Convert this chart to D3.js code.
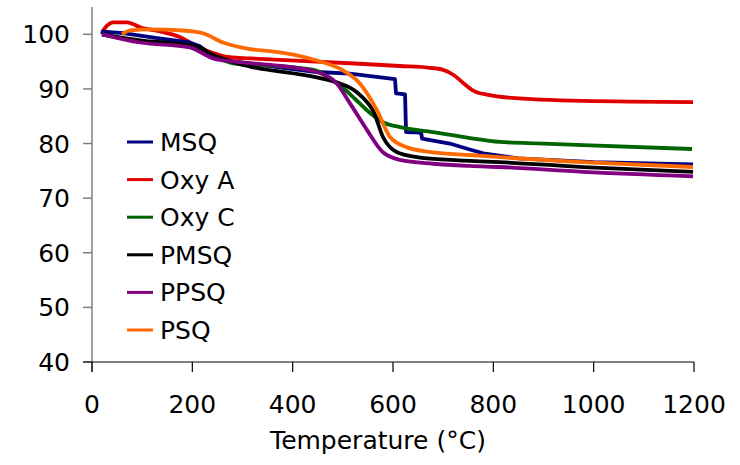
<!DOCTYPE html>
<html>
<head>
<meta charset="utf-8">
<script src="https://cdn.jsdelivr.net/npm/d3@7"></script>
<style>
  body { margin: 0; background: #fff; }
  svg text { font-family: "DejaVu Sans", Verdana, sans-serif; fill: #000; }
</style>
</head>
<body>
<svg id="chart"></svg>
<script>
'use strict'

// series names and colours (legend order)
const seriesNames  = ['MSQ', 'Oxy A', 'Oxy C', 'PMSQ', 'PPSQ', 'PSQ']
const seriesColors = ['#000080', '#e00000', '#006400', '#000000', '#800080', '#ff6a00']

// TGA curves: [temperature °C, weight %]
const msq = [[20,100],[22,100.5],[62,100.2],[130,99.3],[195,98.5],[215,97.8],[240,96],[281,95],[350,94.2],
  [448,93.1],[514,92.8],[604,91.8],[606,89.2],[624,89],[626,82.1],[656,82],[658,80.9],[713,80],[753,78.9],
  [780,78.2],[850,77.3],[1000,76.6],[1198,76.2]]
const oxyA = [[20,100.4],[30,101.6],[42,102.2],[70,102.2],[96,101.3],[142,100.4],[175,99.5],[195,98.5],[229,97],
  [275,95.8],[315,95.6],[514,94.7],[614,94.2],[670,93.9],[700,93.5],[720,92.6],[740,91.1],[760,89.7],[790,88.9],
  [830,88.4],[979,87.8],[1198,87.6]]
const oxyC = [[20,100],[96,98.7],[195,97.8],[229,96.5],[260,95.3],[281,94.7],[415,93.8],[448,93.3],[475,91.8],
  [500,90.2],[524,88.2],[548,86.1],[580,83.9],[614,83],[680,82.1],[753,81],[813,80.3],[900,80],[979,79.7],[1196,79]]
const pmsq = [[20,100],[96,98.9],[195,98],[215,97.6],[235,96.5],[281,94.9],[315,94.1],[448,92.1],[488,91.2],
  [528,89.4],[548,87.6],[560,86.1],[580,81.2],[608,78.4],[648,77.5],[713,77],[813,76.6],[979,75.7],[1198,74.8]]
const ppsq = [[20,100],[96,98.5],[195,97.6],[221,96.5],[241,95.6],[295,94.9],[355,94.4],[448,93.1],[488,91],
  [514,87.4],[548,82.5],[580,78.4],[614,77],[680,76.3],[753,75.9],[813,75.7],[979,74.8],[1198,74]]
const psq = [[60,100],[76,100.7],[116,100.9],[181,100.7],[221,100.2],[261,98.5],[315,97.3],[355,96.9],
  [415,96],[448,95.2],[500,93.4],[534,91],[568,86.1],[594,81.2],[628,79.3],[680,78.4],[753,77.9],
  [813,77.5],[979,76.6],[1198,75.7]]
const seriesData = [msq, oxyA, oxyC, pmsq, ppsq, psq]

const xTicks = [0, 200, 400, 600, 800, 1000, 1200]
const yTicks = [40, 50, 60, 70, 80, 90, 100]

const width = 740, height = 465
const plot = {left: 92, right: 694, top: 7, bottom: 362}

const svg = d3.select('#chart').attr('width', width).attr('height', height)

const x = d3.scaleLinear().domain([0, 1200]).range([plot.left, plot.right])
const y = d3.scaleLinear().domain([40, 105]).range([plot.bottom, plot.top])

// y axis (grey line, extends a bit below the x axis)
svg.append('line')
  .attr('x1', plot.left).attr('x2', plot.left)
  .attr('y1', plot.top).attr('y2', plot.bottom + 10)
  .attr('stroke', '#808080').attr('stroke-width', 1.5)
svg.selectAll('.ytick').data(yTicks).enter().append('line')
  .attr('x1', plot.left - 9).attr('x2', plot.left)
  .attr('y1', d => y(d)).attr('y2', d => y(d))
  .attr('stroke', '#808080').attr('stroke-width', 1.5)
svg.selectAll('.ylabel').data(yTicks).enter().append('text')
  .attr('x', 70).attr('y', d => y(d)).attr('dy', '0.36em')
  .attr('text-anchor', 'end').style('font-size', '25px')
  .text(d => d)

// x axis
svg.append('line')
  .attr('x1', plot.left - 9).attr('x2', plot.right)
  .attr('y1', plot.bottom).attr('y2', plot.bottom)
  .attr('stroke', '#000').attr('stroke-width', 1.2)
svg.selectAll('.xtick').data(xTicks).enter().append('line')
  .attr('x1', d => x(d)).attr('x2', d => x(d))
  .attr('y1', plot.bottom).attr('y2', plot.bottom + 10)
  .attr('stroke', '#000').attr('stroke-width', 1.2)
svg.selectAll('.xlabel').data(xTicks).enter().append('text')
  .attr('x', d => x(d)).attr('y', 413)
  .attr('text-anchor', 'middle').style('font-size', '25px')
  .text(d => d)

svg.append('text')
  .attr('x', 378).attr('y', 449)
  .attr('text-anchor', 'middle').style('font-size', '25px')
  .text('Temperature (°C)')

// curves
const lineSmooth = d3.line().x(d => x(d[0])).y(d => y(d[1])).curve(d3.curveMonotoneX)
const lineStep = d3.line().x(d => x(d[0])).y(d => y(d[1]))

// draw order so that the overlaps look like the original
const drawOrder = [1, 0, 2, 3, 4, 5]
drawOrder.forEach(i => {
  svg.append('path')
    .datum(seriesData[i])
    .attr('d', i === 0 ? lineStep : lineSmooth)
    .attr('fill', 'none')
    .attr('stroke', seriesColors[i])
    .attr('stroke-width', 3.8)
    .attr('stroke-linejoin', 'round')
})

// legend
const legend = svg.selectAll('.legend').data(seriesNames).enter().append('g')
  .attr('transform', (d, i) => 'translate(127,' + (142 + i * 37.6) + ')')
legend.append('line')
  .attr('x1', 0).attr('x2', 26)
  .attr('stroke', (d, i) => seriesColors[i]).attr('stroke-width', 3)
legend.append('text')
  .attr('x', 33).attr('dy', '0.36em')
  .style('font-size', '25px')
  .text(d => d)
</script>
</body>
</html>
